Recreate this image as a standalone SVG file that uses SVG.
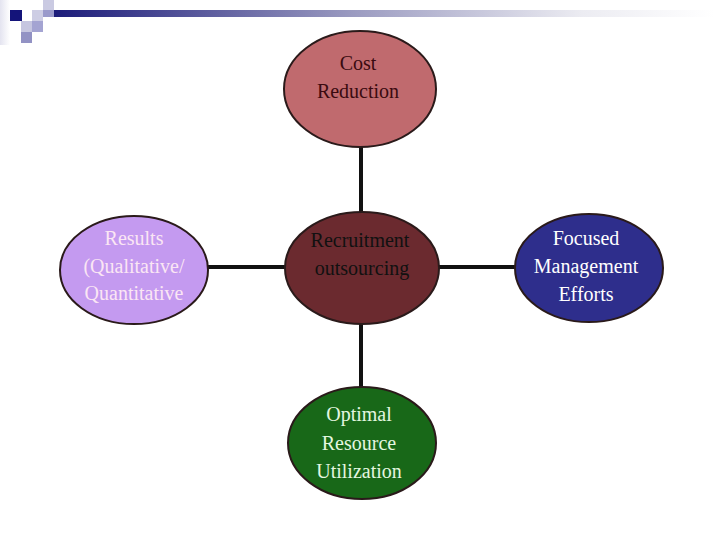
<svg xmlns="http://www.w3.org/2000/svg" width="720" height="540" viewBox="0 0 720 540">
<style>
.node{stroke:#2a1a1a;stroke-width:2}
.lbl{font-family:"Liberation Serif","DejaVu Serif",serif;font-size:20px;text-anchor:middle}
.conn{stroke:#111;stroke-width:4;fill:none}
</style>
<defs>
<linearGradient id="bar" x1="0" x2="1" y1="0" y2="0">
<stop offset="0" stop-color="#1c1c7a"/>
<stop offset="0.45" stop-color="#9a9ac0"/>
<stop offset="0.8" stop-color="#ececf2"/>
<stop offset="1" stop-color="#ffffff"/>
</linearGradient>
<linearGradient id="side" x1="0" x2="1" y1="0" y2="0">
<stop offset="0" stop-color="#e4e4f0"/>
<stop offset="1" stop-color="#ffffff"/>
</linearGradient>
</defs>
<rect width="720" height="540" fill="#ffffff"/>
<g id="header">
<rect x="0" y="0" width="10" height="45" fill="url(#side)"/>
<rect x="54" y="10" width="660" height="7" fill="url(#bar)"/>
<rect x="43" y="0" width="11" height="10" fill="#cacae2"/>
<rect x="43" y="10" width="11" height="7" fill="#9a9acb"/>
<rect x="32" y="10" width="11" height="11" fill="#cdcde4"/>
<rect x="10" y="10" width="12" height="11" fill="#14147a"/>
<rect x="21" y="21" width="11" height="11" fill="#c6c6e0"/>
<rect x="32" y="21" width="11" height="11" fill="#a4a4d2"/>
<rect x="21" y="32" width="11" height="11" fill="#9292c4"/>
</g>
<g id="connectors">
<line class="conn" x1="361" y1="147" x2="361" y2="212"/>
<line class="conn" x1="361" y1="324" x2="361" y2="388"/>
<line class="conn" x1="206" y1="267" x2="286" y2="267"/>
<line class="conn" x1="439" y1="267" x2="516" y2="267"/>
</g>
<g id="cost">
<ellipse class="node" cx="360" cy="89" rx="76" ry="58" fill="#c06a6e"/>
<text class="lbl" x="358" y="70" fill="#3a0a10">Cost</text>
<text class="lbl" x="358" y="98" fill="#3a0a10">Reduction</text>
</g>
<g id="center">
<ellipse class="node" cx="362" cy="268" rx="77" ry="56" fill="#6b2a2f"/>
<text class="lbl" x="360" y="247" fill="#111">Recruitment</text>
<text class="lbl" x="362" y="275" fill="#111" font-size="22">outsourcing</text>
</g>
<g id="results">
<ellipse class="node" cx="134" cy="270" rx="74" ry="54" fill="#c49af0"/>
<text class="lbl" x="134" y="245" fill="#fbe6f4">Results</text>
<text class="lbl" x="134" y="273" fill="#fbe6f4">(Qualitative/</text>
<text class="lbl" x="134" y="300" fill="#fbe6f4">Quantitative</text>
</g>
<g id="focused">
<ellipse class="node" cx="589" cy="268" rx="74" ry="54" fill="#2e2e8c"/>
<text class="lbl" x="586" y="245" fill="#ffffff">Focused</text>
<text class="lbl" x="586" y="273" fill="#ffffff">Management</text>
<text class="lbl" x="586" y="301" fill="#ffffff">Efforts</text>
</g>
<g id="optimal">
<ellipse class="node" cx="362" cy="443" rx="74" ry="56" fill="#186818"/>
<text class="lbl" x="359" y="421" fill="#e4f7e0">Optimal</text>
<text class="lbl" x="359" y="450" fill="#e4f7e0">Resource</text>
<text class="lbl" x="359" y="478" fill="#e4f7e0">Utilization</text>
</g>
</svg>
